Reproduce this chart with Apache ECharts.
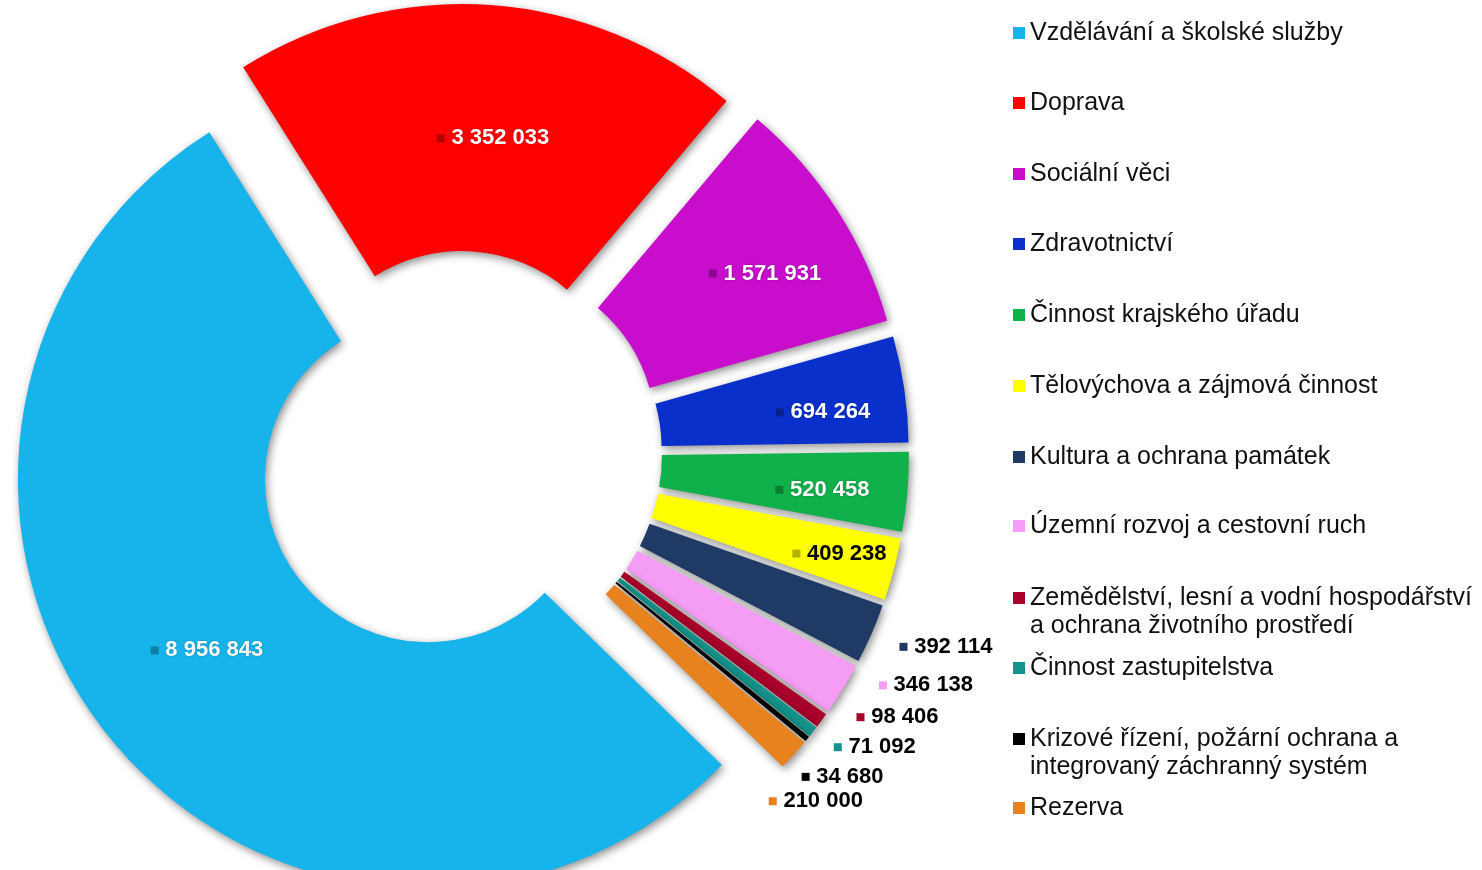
<!DOCTYPE html>
<html>
<head>
<meta charset="utf-8">
<script src="https://cdn.jsdelivr.net/npm/echarts@6/dist/echarts.min.js"></script>
<style>
html,body{margin:0;padding:0;background:#fff;}
#chart{width:1482px;height:870px;}
</style>
</head>
<body>
<div id="chart"></div>
<script>
// ---- data ----
const categories = [
  'Vzdělávání a školské služby',
  'Doprava',
  'Sociální věci',
  'Zdravotnictví',
  'Činnost krajského úřadu',
  'Tělovýchova a zájmová činnost',
  'Kultura a ochrana památek',
  'Územní rozvoj a cestovní ruch',
  'Zemědělství, lesní a vodní hospodářství a ochrana životního prostředí',
  'Činnost zastupitelstva',
  'Krizové řízení, požární ochrana a integrovaný záchranný systém',
  'Rezerva'
];
const values = [8956843, 3352033, 1571931, 694264, 520458, 409238, 392114, 346138, 98406, 71092, 34680, 210000];
const legendLabels = [
  'Vzdělávání a školské služby',
  'Doprava',
  'Sociální věci',
  'Zdravotnictví',
  'Činnost krajského úřadu',
  'Tělovýchova a zájmová činnost',
  'Kultura a ochrana památek',
  'Územní rozvoj a cestovní ruch',
  'Zemědělství, lesní a vodní hospodářství\na ochrana životního prostředí',
  'Činnost zastupitelstva',
  'Krizové řízení, požární ochrana a\nintegrovaný záchranný systém',
  'Rezerva'
];

// ---- styles / layout ----
const colors = ['#17b4ec','#ff0000','#c80ecc','#0a30cc','#10b04a','#ffff00','#1f3a64','#f59cf5','#a8002a','#13938b','#000000','#e8821e'];
const labelOutside = [false,false,false,false,false,false,true,true,true,true,true,true];
const labelDark = [false,false,false,false,false,true,true,true,true,true,true,true];
const labelShift = [[4,-11],[11,13],[29,-2],[38,6],[35,8],[62,15],[11,10],[12,-8],[5,-8],[-4,-3],[-21,2],[-36,1]];
const legendCenters = [33,103,174,244,315,386,457,526,598,668,739,808];
const CX = 459, CY = 454;

function fmt(v){ return String(v).replace(/\B(?=(\d{3})+(?!\d))/g, '\u00a0'); }

const rich = { v: { fontFamily: 'Liberation Sans, Arial, sans-serif', fontSize: 22, fontWeight: 'bold' } };
colors.forEach((c,i)=>{
  rich['i'+i] = { width: 8, height: 8, backgroundColor: labelOutside[i] ? c : 'rgba(0,0,0,0.3)' };
});

const data = values.map((v,i)=>({
  name: categories[i],
  value: v,
  selected: true,
  itemStyle: { color: colors[i] },
  label: labelOutside[i] ? {
    position: 'outside', color: '#000', textShadowBlur: 0
  } : {
    position: 'inside', color: labelDark[i] ? '#000' : '#fff',
    textShadowColor: labelDark[i] ? 'transparent' : 'rgba(0,0,0,0.35)', textShadowBlur: 2
  },
  labelLine: { show: false }
}));

const legends = legendLabels.map((t,i)=>{
  const multi = t.indexOf('\n') >= 0;
  return {
    show: true, orient: 'vertical', left: 1013,
    top: legendCenters[i] - 14 - (multi ? 28 : 0),
    padding: 0, itemWidth: 12, itemHeight: 12, icon: 'rect',
    selectedMode: false,
    data: [categories[i]],
    formatter: () => (multi ? '\n' + t : t),
    textStyle: {
      fontFamily: 'Liberation Sans, Arial, sans-serif', fontSize: 25, color: '#111',
      lineHeight: 28
    }
  };
});

const chart = echarts.init(document.getElementById('chart'), null, {renderer: 'canvas'});
chart.setOption({
  animation: false,
  backgroundColor: '#fff',
  legend: legends,
  series: [{
    type: 'pie',
    center: [CX, CY],
    radius: [163, 410],
    startAngle: 315.8,
    clockwise: true,
    selectedMode: 'multiple',
    selectedOffset: 40,
    avoidLabelOverlap: true,
    emphasis: { scale: false },
    itemStyle: {
      shadowBlur: 8, shadowColor: 'rgba(0,0,0,0.45)', shadowOffsetX: 2, shadowOffsetY: 3
    },
    label: {
      show: true,
      formatter: p => '{i' + p.dataIndex + '|}  {v|' + fmt(p.value) + '}',
      rich: rich
    },
    labelLine: { show: false, length: 8, length2: 0 },
    labelLayout: function (p) {
      const s = labelShift[p.dataIndex];
      return { dx: s[0], dy: s[1] };
    },
    data: data
  }]
});
</script>
</body>
</html>
